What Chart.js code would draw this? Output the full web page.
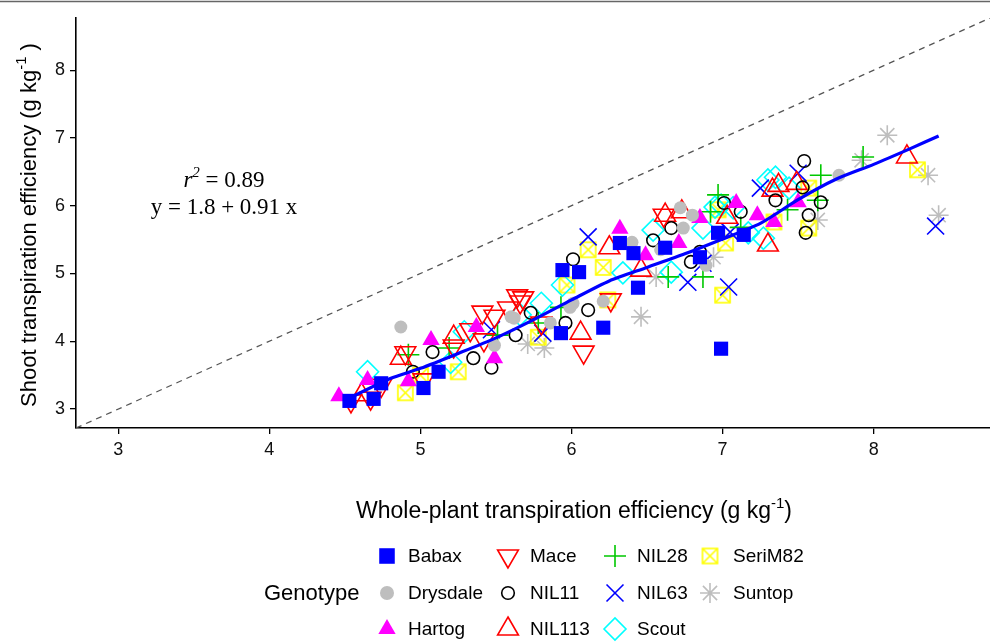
<!DOCTYPE html>
<html>
<head>
<meta charset="utf-8">
<script src="https://cdn.jsdelivr.net/npm/chart.js@4.4.1/dist/chart.umd.min.js"></script>
<style>
  html, body { margin:0; padding:0; background:#fff; overflow:hidden; }
  #wrap { width:990px; height:643px; }
  canvas { display:block; }
</style>
</head>
<body>
<div id="wrap"><canvas id="c" width="990" height="643"></canvas></div>
<script>
// Data: [whole-plant TE, shoot TE]
const babax    = [[4.53,3.12],[4.69,3.15],[4.74,3.38],[5.02,3.31],[5.12,3.55],[5.93,4.12],[5.94,5.05],[6.05,5.02],[6.21,4.20],[6.44,4.79],[6.41,5.30],[6.62,5.38],[6.85,5.24],[6.97,5.60],[7.14,5.57],[6.99,3.89],[6.32,5.45]];
const drysdale = [[4.87,4.21],[5.49,3.94],[5.62,4.34],[5.86,4.27],[6.01,4.56],[6.21,4.59],[6.40,5.46],[6.72,5.97],[6.80,5.86],[6.74,5.67],[6.89,5.12],[7.77,6.45],[6.59,5.35],[5.60,4.36],[5.99,4.50]];
const hartog   = [[4.46,3.19],[4.65,3.43],[4.92,3.41],[5.07,4.02],[5.37,4.21],[5.49,3.75],[6.32,5.66],[6.49,5.27],[6.71,5.45],[6.85,5.82],[7.09,6.04],[7.23,5.86],[7.34,5.76],[7.50,6.05]];
const mace     = [[4.54,3.12],[4.67,3.16],[4.74,3.35],[4.90,3.83],[5.02,3.43],[5.22,3.93],[5.33,4.17],[5.42,4.02],[5.49,4.37],[5.58,4.49],[5.64,4.67],[5.66,4.58],[5.80,4.27],[6.08,3.84],[6.26,4.61],[6.61,5.86],[5.41,4.43],[5.68,4.64]];
const nil11    = [[4.95,3.55],[5.08,3.84],[5.35,3.75],[5.47,3.61],[5.63,4.09],[5.73,4.42],[5.96,4.27],[6.11,4.46],[6.01,5.21],[6.54,5.49],[6.66,5.67],[6.79,5.17],[6.85,5.32],[7.01,6.04],[7.12,5.91],[7.35,6.08],[7.53,6.27],[7.54,6.66],[7.65,6.05],[7.57,5.86],[7.55,5.60]];
const nil113   = [[4.61,3.21],[4.87,3.75],[5.22,4.06],[6.06,4.12],[6.25,5.38],[6.62,5.86],[6.73,5.91],[7.03,5.83],[7.30,5.42],[7.33,6.23],[7.37,6.30],[7.49,6.33],[8.22,6.72],[6.46,5.05]];
const nil28    = [[4.92,3.80],[5.19,3.90],[5.51,4.09],[5.78,4.27],[5.93,4.50],[6.64,4.95],[6.87,4.95],[6.97,6.16],[7.12,5.68],[7.43,5.94],[7.63,6.08],[7.65,6.45],[7.93,6.72],[6.92,5.91]];
const nil63    = [[5.47,4.17],[5.81,4.12],[6.11,5.54],[6.77,4.87],[6.87,5.15],[7.04,4.80],[7.25,6.26],[7.50,6.48],[8.41,5.70],[7.05,5.61]];
const scout    = [[4.65,3.55],[5.20,3.69],[5.29,4.14],[5.66,4.39],[5.80,4.56],[5.94,4.83],[6.34,5.01],[6.54,5.64],[6.66,5.02],[6.95,5.98],[7.07,5.97],[7.17,5.60],[7.27,5.52],[7.30,6.38],[7.35,6.42],[7.44,6.26],[6.87,5.67],[6.99,6.01]];
const serim82  = [[4.90,3.24],[5.00,3.50],[5.25,3.55],[5.78,4.06],[5.97,4.83],[6.11,5.35],[6.21,5.09],[6.24,4.61],[7.02,5.45],[7.00,4.68],[6.97,5.94],[7.34,5.76],[7.57,6.26],[7.57,5.67],[8.29,6.53]];
const suntop   = [[5.71,3.96],[5.82,3.90],[6.46,4.36],[6.56,4.95],[6.94,5.24],[7.63,5.79],[7.92,6.67],[8.09,7.04],[8.36,6.45],[8.43,5.86]];

const genotypes = ['Babax','Drysdale','Hartog','Mace','NIL11','NIL113','NIL28','NIL63','Scout','SeriM82','Suntop'];

// fitted curve and 1:1 line
const fitX = [4.52, 4.8, 5.0, 5.25, 5.5, 5.75, 6.0, 6.25, 6.5, 6.75, 7.0, 7.25, 7.5, 7.75, 8.0, 8.25, 8.43];
const fitY = [3.15, 3.45, 3.60, 3.82, 4.05, 4.32, 4.61, 4.89, 5.09, 5.29, 5.51, 5.74, 6.09, 6.39, 6.61, 6.85, 7.03];
const oneToOne = [2.72, 8.77];

const xTicks = [3, 4, 5, 6, 7, 8];
const yTicks = [3, 4, 5, 6, 7, 8];

const SANS = '"Liberation Sans", Arial, sans-serif';
const SERIF = '"Liberation Serif", "Times New Roman", serif';

// square with an X inside (SeriM82)
function boxX(color, size) {
  const cv = document.createElement('canvas');
  cv.width = size + 4; cv.height = size + 4;
  const g = cv.getContext('2d');
  g.strokeStyle = color; g.lineWidth = 1.6;
  const a = 2, b = size + 2;
  g.strokeRect(a, a, size, size);
  g.beginPath(); g.moveTo(a, a); g.lineTo(b, b); g.moveTo(b, a); g.lineTo(a, b); g.stroke();
  return cv;
}

const styles = {
  Babax:    { pts: babax,    pointStyle:'rect',     radius:10,  color:'#0000ff', fill:true },
  Drysdale: { pts: drysdale, pointStyle:'circle',   radius:6.5, color:'#bebebe', fill:true },
  Hartog:   { pts: hartog,   pointStyle:'triangle', radius:10,  color:'#ff00ff', fill:true },
  Mace:     { pts: mace,     pointStyle:'triangle', radius:12,  color:'#ff0000', rotation:180 },
  NIL11:    { pts: nil11,    pointStyle:'circle',   radius:6.3, color:'#000000' },
  NIL113:   { pts: nil113,   pointStyle:'triangle', radius:12,  color:'#ff0000' },
  NIL28:    { pts: nil28,    pointStyle:'cross',    radius:11,  color:'#00c800' },
  NIL63:    { pts: nil63,    pointStyle:'crossRot', radius:12,  color:'#0000ff' },
  Scout:    { pts: scout,    pointStyle:'rectRot',  radius:11,  color:'#00ffff' },
  SeriM82:  { pts: serim82,  pointStyle: boxX('#ffff00', 15), radius:9, color:'#ffff00' },
  Suntop:   { pts: suntop,   pointStyle:'star',     radius:10,  color:'#bebebe' },
};

const pointSets = genotypes.map(name => {
  const s = styles[name];
  return {
    type:'scatter', label:name, order:1,
    data: s.pts.map(p => ({ x:p[0], y:p[1] })),
    pointStyle: s.pointStyle, pointRadius: s.radius, pointHoverRadius: s.radius,
    pointRotation: s.rotation || 0,
    borderColor: s.color, backgroundColor: s.fill ? s.color : 'rgba(0,0,0,0)',
    borderWidth: s.fill ? 0 : 1.6,
  };
});

// text with superscripts
function drawParts(ctx, parts, x, y, align) {
  let w = 0;
  parts.forEach(p => { ctx.font = p.font; w += ctx.measureText(p.t).width; });
  let cx = align === 'center' ? x - w / 2 : x;
  parts.forEach(p => {
    ctx.font = p.font;
    ctx.fillText(p.t, cx, y + (p.dy || 0));
    cx += ctx.measureText(p.t).width;
  });
}

const annot = {
  id:'annot',
  afterDraw(chart) {
    const ctx = chart.ctx;
    ctx.save();
    ctx.strokeStyle = '#666'; ctx.lineWidth = 1.5;
    ctx.beginPath(); ctx.moveTo(0, 1.5); ctx.lineTo(990, 1.5); ctx.stroke();

    ctx.fillStyle = '#000'; ctx.textBaseline = 'alphabetic'; ctx.textAlign = 'left';
    drawParts(ctx, [
      { t:'r', font:'italic 23px ' + SERIF },
      { t:'2', font:'italic 15px ' + SERIF, dy:-10 },
      { t:' = 0.89', font:'23px ' + SERIF },
    ], 224, 187, 'center');
    drawParts(ctx, [{ t:'y = 1.8 + 0.91 x', font:'23px ' + SERIF }], 224, 214, 'center');

    // axis titles
    drawParts(ctx, [
      { t:'Whole-plant transpiration efficiency (g kg', font:'23px ' + SANS },
      { t:'-1', font:'15px ' + SANS, dy:-10 },
      { t:')', font:'23px ' + SANS },
    ], 574, 518, 'center');
    ctx.save();
    ctx.translate(36, 225); ctx.rotate(-Math.PI / 2);
    drawParts(ctx, [
      { t:'Shoot transpiration efficiency (g kg', font:'22px ' + SANS },
      { t:'-1', font:'15px ' + SANS, dy:-10 },
      { t:' )', font:'22px ' + SANS },
    ], 0, 0, 'center');
    ctx.restore();

    // legend, filled column by column
    ctx.font = '22px ' + SANS; ctx.textBaseline = 'middle';
    ctx.fillText('Genotype', 264, 594);
    const colSym = [387, 508, 615, 710], colTxt = [408, 530, 637, 733], rowY = [556, 593, 629];
    ctx.font = '19px ' + SANS;
    genotypes.forEach((name, i) => {
      const s = styles[name], c = Math.floor(i / 3), r = i % 3;
      const x = colSym[c], y = rowY[r];
      ctx.save();
      ctx.fillStyle = s.fill ? s.color : 'rgba(0,0,0,0)';
      ctx.strokeStyle = s.color; ctx.lineWidth = s.fill ? 0 : 1.6;
      Chart.helpers.drawPoint(ctx, {
        pointStyle: s.pointStyle, rotation: s.rotation || 0,
        radius: name === 'Babax' ? 11 : name === 'Drysdale' ? 7 : s.radius,
        borderWidth: s.fill ? 0 : 1.6
      }, x, y);
      ctx.restore();
      ctx.fillStyle = '#000';
      ctx.fillText(name, colTxt[c], y + 1);
    });
    ctx.restore();
  }
};

new Chart(document.getElementById('c'), {
  type:'scatter',
  data:{ datasets:[
    { type:'line', label:'fit', order:0, data: fitX.map((x, i) => ({ x, y: fitY[i] })),
      borderColor:'#0000ff', borderWidth:3.2, pointRadius:0, fill:false, tension:0.25 },
    ...pointSets,
    { type:'line', label:'1:1', order:2, data: oneToOne.map(v => ({ x:v, y:v })),
      borderColor:'#555', borderWidth:1.3, borderDash:[6,5], pointRadius:0, fill:false },
  ]},
  options:{
    responsive:false, animation:false, devicePixelRatio:1,
    layout:{ autoPadding:false, padding:{ top:18, right:0, left:0, bottom:0 } },
    plugins:{ legend:{ display:false }, tooltip:{ enabled:false } },
    scales:{
      x:{ type:'linear', min:2.72, max:8.77,
        afterBuildTicks: s => { s.ticks = xTicks.map(v => ({ value:v })); },
        afterFit: s => { s.height = 215; },
        grid:{ drawOnChartArea:false, drawTicks:true, tickLength:6, color:'#000', lineWidth:1.3 },
        border:{ display:true, color:'#000', width:1.6 },
        ticks:{ font:{ family:SANS, size:18 }, color:'#111', padding:5, maxRotation:0 } },
      y:{ type:'linear', min:2.72, max:8.77,
        afterBuildTicks: s => { s.ticks = yTicks.map(v => ({ value:v })); },
        afterFit: s => { s.width = 76; },
        grid:{ drawOnChartArea:false, drawTicks:true, tickLength:6, color:'#000', lineWidth:1.3 },
        border:{ display:true, color:'#000', width:1.6 },
        ticks:{ font:{ family:SANS, size:18 }, color:'#111', padding:5 } },
    }
  },
  plugins:[annot]
});
</script>
</body>
</html>
